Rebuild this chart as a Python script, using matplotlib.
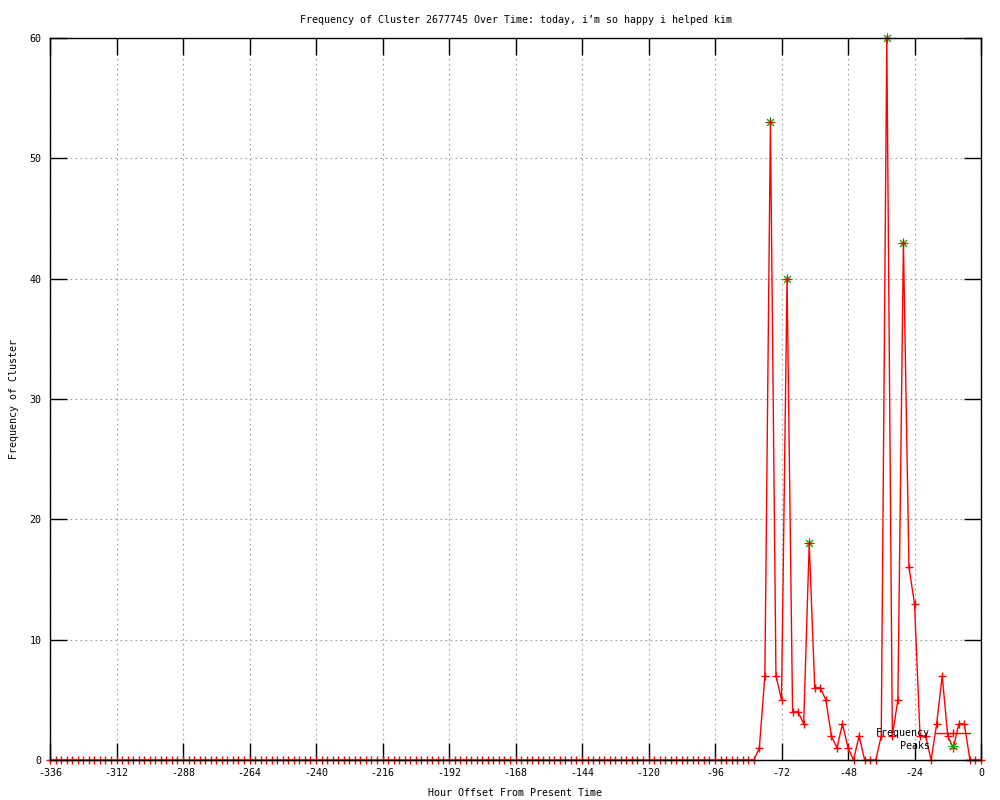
import matplotlib
matplotlib.use("Agg")
import matplotlib.pyplot as plt
from matplotlib.lines import Line2D

plt.rcParams['font.family'] = ['DejaVu Sans Mono']
plt.rcParams['axes.unicode_minus'] = False

title = "Frequency of Cluster 2677745 Over Time: today, i\u2019m so happy i helped kim"

# hour offsets, one sample every 2 hours
hours = list(range(-336, 1, 2))

counts = [
    0, 0, 0, 0, 0, 0, 0, 0, 0, 0, 0, 0, 0, 0, 0, 0,   # -336 .. -306
    0, 0, 0, 0, 0, 0, 0, 0, 0, 0, 0, 0, 0, 0, 0, 0,   # -304 .. -274
    0, 0, 0, 0, 0, 0, 0, 0, 0, 0, 0, 0, 0, 0, 0, 0,   # -272 .. -242
    0, 0, 0, 0, 0, 0, 0, 0, 0, 0, 0, 0, 0, 0, 0, 0,   # -240 .. -210
    0, 0, 0, 0, 0, 0, 0, 0, 0, 0, 0, 0, 0, 0, 0, 0,   # -208 .. -178
    0, 0, 0, 0, 0, 0, 0, 0, 0, 0, 0, 0, 0, 0, 0, 0,   # -176 .. -146
    0, 0, 0, 0, 0, 0, 0, 0, 0, 0, 0, 0, 0, 0, 0, 0,   # -144 .. -114
    0, 0, 0, 0, 0, 0, 0, 0, 0, 0, 0, 0, 0, 0, 0, 0,   # -112 .. -82
    1, 7, 53, 7, 5, 40, 4, 4, 3, 18, 6, 6, 5, 2, 1, 3,  # -80 .. -50
    1, 0, 2, 0, 0, 0, 2, 60, 2, 5, 43, 16, 13, 2, 2, 0,  # -48 .. -18
    3, 7, 2, 1, 3, 3, 0, 0, 0,                        # -16 .. 0
]

peak_hours = [-76, -70, -62, -34, -28]
peak_counts = [53, 40, 18, 60, 43]

GREEN = '#00b000'

fig = plt.figure(figsize=(10, 8), dpi=100)
ax = fig.add_axes([0.05, 0.05, 0.931, 0.9025])

ax.plot(peak_hours, peak_counts, ls='none', color=GREEN,
        marker=(8, 2, 0), ms=7, mew=0.7, clip_on=False, zorder=2.1)
ax.plot(hours, counts, color='red', lw=1.0, marker='+', ms=6, mew=1.0,
        clip_on=False, zorder=2.2)

ax.set_xlim(-336, 0)
ax.set_ylim(0, 60)
ax.set_xticks(list(range(-336, 1, 24)))
ax.set_yticks(list(range(0, 61, 10)))
ax.tick_params(direction='in', length=12, width=1, top=True, right=True,
               labelsize=7.2, pad=6)
ax.grid(True, color='#a0a0a0', lw=0.8, ls=(0, (1.5, 3)))
for s in ax.spines.values():
    s.set_linewidth(1.0)

ax.set_title(title, fontsize=7.2, pad=11)
ax.set_xlabel("Hour Offset From Present Time", fontsize=7.2, labelpad=7)
ax.set_ylabel("Frequency of Cluster", fontsize=7.2, labelpad=8)

# key drawn gnuplot style: right-justified text, sample to the right
ax.text(0.945, 0.0374, "Frequency", transform=ax.transAxes, ha='right',
        va='center', fontsize=7.2, zorder=5)
ax.text(0.945, 0.0194, "Peaks", transform=ax.transAxes, ha='right',
        va='center', fontsize=7.2, zorder=5)
ax.add_line(Line2D([0.9517, 0.9882], [0.0374, 0.0374], transform=ax.transAxes,
                   color='red', lw=1.0, zorder=5))
ax.add_line(Line2D([0.970], [0.0374], transform=ax.transAxes, color='red',
                   marker='+', ms=6, mew=1.0, zorder=5))
ax.add_line(Line2D([0.970], [0.0194], transform=ax.transAxes, color=GREEN,
                   marker=(8, 2, 0), ms=7, mew=0.7, zorder=5))

fig.savefig("out.png", dpi=100)
